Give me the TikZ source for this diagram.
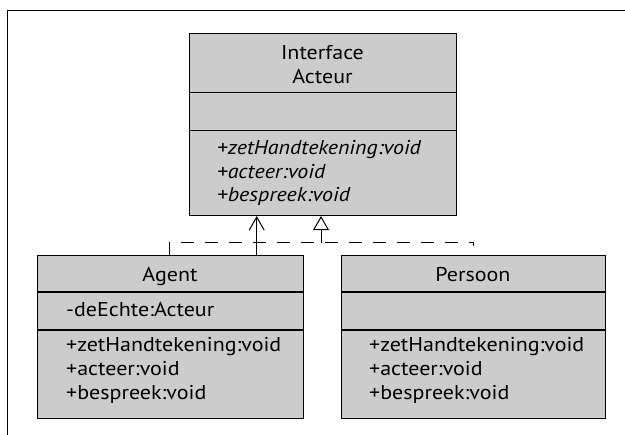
\documentclass[tikz,border=0pt]{standalone}
\usepackage{fontspec}
\setmainfont{PT Sans}[FakeStretch=1.1]
\usetikzlibrary{arrows.meta}
\definecolor{boxfill}{HTML}{CCCCCC}
\tikzset{
  comp/.style={draw=black, fill=boxfill, line width=1.1pt, rectangle, inner sep=0pt, anchor=north west},
  txt/.style={inner sep=0pt, font=\fontsize{20}{23}\selectfont},
  lft/.style={txt, anchor=base west},
  ctr/.style={txt, anchor=base},
  conn/.style={line width=1pt},
  real/.style={line width=1pt, dash pattern=on 13pt off 11pt},
}
\begin{document}
\begin{tikzpicture}[x=1pt,y=-1pt]
\useasboundingbox (0,0) rectangle (625,435);
\draw[line width=1pt] (625,11) -- (7,11) -- (7,435);

% Interface Acteur
\node[comp, minimum width=267pt, minimum height=59pt] (ifT) at (189,33) {};
\node[comp, minimum width=267pt, minimum height=38pt] (ifA) at (189,92) {};
\node[comp, minimum width=267pt, minimum height=85pt] (ifO) at (189,130) {};
\node[ctr] (ifN1) at (322.5,59.3) {Interface};
\node[ctr] (ifN2) at (322.5,83.3) {Acteur};
\node[lft] (ifO1) at (217,155) {\itshape +zetHandtekening:void};
\node[lft] (ifO2) at (217,178.5) {\itshape +acteer:void};
\node[lft] (ifO3) at (217,202) {\itshape +bespreek:void};

% Agent
\node[comp, minimum width=266pt, minimum height=36.5pt] (agT) at (37,255) {};
\node[comp, minimum width=266pt, minimum height=38pt] (agA) at (37,291.5) {};
\node[comp, minimum width=266pt, minimum height=88.5pt] (agO) at (37,329.5) {};
\node[ctr] (agN) at (170,281.7) {Agent};
\node[lft] (agA1) at (66,316.7) {-deEchte:Acteur};
\node[lft] (agO1) at (66,351.7) {+zetHandtekening:void};
\node[lft] (agO2) at (66,375.5) {+acteer:void};
\node[lft] (agO3) at (66,399.3) {+bespreek:void};

% Persoon
\node[comp, minimum width=264pt, minimum height=36.5pt] (peT) at (341,255) {};
\node[comp, minimum width=264pt, minimum height=38pt] (peA) at (341,291.5) {};
\node[comp, minimum width=264pt, minimum height=88.5pt] (peO) at (341,329.5) {};
\node[ctr] (peN) at (473,281.7) {Persoon};
\node[lft] (peO1) at (369,351.7) {+zetHandtekening:void};
\node[lft] (peO2) at (369,375.5) {+acteer:void};
\node[lft] (peO3) at (369,399.3) {+bespreek:void};

% association Agent -> Acteur
\draw[conn, -{Straight Barb[length=13pt,width=15pt,line width=1pt]}] (agT.north -| 256.7,0) -- (ifO.south -| 256.7,0);

% realization (dashed) with triangle
\coordinate (jn) at (321,242.7);
\coordinate (rEnd) at (473.3,246.5);
\draw[real] (agT.north -| 169.4,0) |- (jn) -| (rEnd);
\draw[conn, -{Triangle[open,length=14pt,width=16pt,line width=1pt]}] (jn) -- (ifO.south -| jn);
\end{tikzpicture}
\end{document}
